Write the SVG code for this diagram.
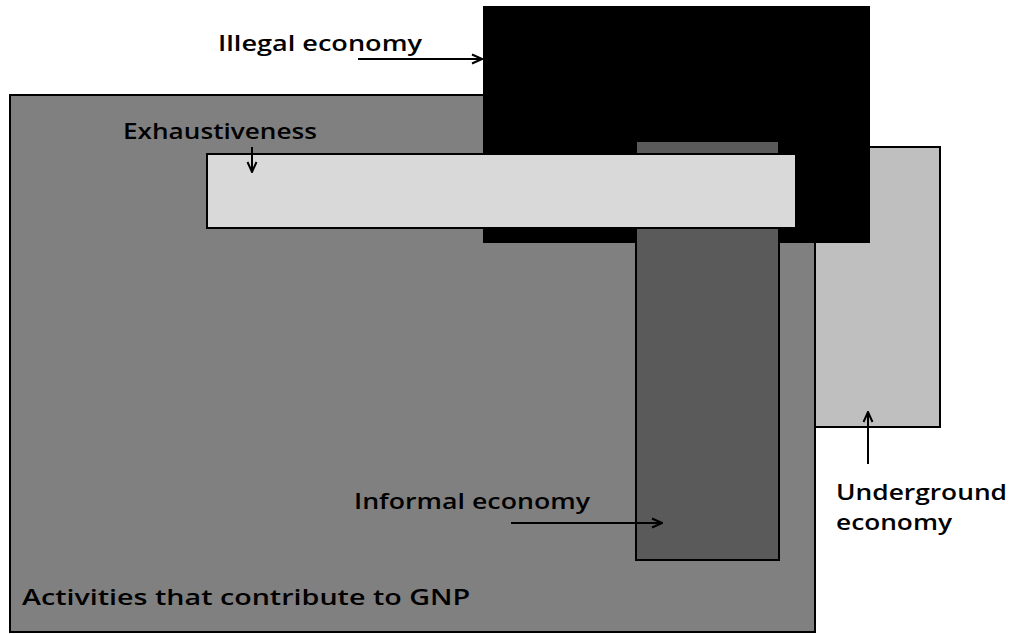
<svg xmlns="http://www.w3.org/2000/svg" width="1016" height="634" viewBox="0 0 1016 634">
<defs>
<marker id="ah" viewBox="0 0 12 12" refX="11" refY="6" markerWidth="12" markerHeight="12" markerUnits="userSpaceOnUse" orient="auto">
<path d="M1,1.5 L11,6 L1,10.5" fill="none" stroke="#000" stroke-width="2"/>
</marker>
<style>
.lbl{font-family:"Open Sans","Liberation Sans",sans-serif;font-size:22px;font-weight:600;fill:#000}
.bx{stroke:#000;stroke-width:2}
.ar{stroke:#000;stroke-width:2;fill:none;marker-end:url(#ah)}
</style>
</defs>
<rect width="1016" height="634" fill="#fff"/>
<g id="gnp"><rect class="bx" x="10" y="95" width="805" height="537" fill="#808080"/></g>
<g id="underground"><rect class="bx" x="815" y="147" width="125" height="280" fill="#bfbfbf"/></g>
<g id="illegal"><rect x="483" y="6" width="387" height="237" fill="#000"/></g>
<g id="informal"><rect class="bx" x="636" y="141" width="143" height="419" fill="#5a5a5a"/></g>
<g id="exhaustiveness"><rect class="bx" x="207" y="154" width="589" height="74" fill="#d9d9d9"/></g>
<g id="labels">
<text class="lbl" x="218" y="51" textLength="204" lengthAdjust="spacingAndGlyphs">Illegal economy</text>
<text class="lbl" x="123" y="139" textLength="194" lengthAdjust="spacingAndGlyphs">Exhaustiveness</text>
<text class="lbl" x="354" y="509" textLength="236" lengthAdjust="spacingAndGlyphs">Informal economy</text>
<text class="lbl" x="22" y="605" textLength="448" lengthAdjust="spacingAndGlyphs">Activities that contribute to GNP</text>
<text class="lbl" x="836" y="500" textLength="171" lengthAdjust="spacingAndGlyphs">Underground</text>
<text class="lbl" x="836" y="530" textLength="116" lengthAdjust="spacingAndGlyphs">economy</text>
</g>
<g id="connectors">
<line class="ar" x1="358" y1="59" x2="482" y2="59"/>
<line class="ar" x1="252" y1="147" x2="252" y2="172"/>
<line class="ar" x1="511" y1="523" x2="662" y2="523"/>
<line class="ar" x1="868" y1="464" x2="868" y2="412"/>
</g>
</svg>
